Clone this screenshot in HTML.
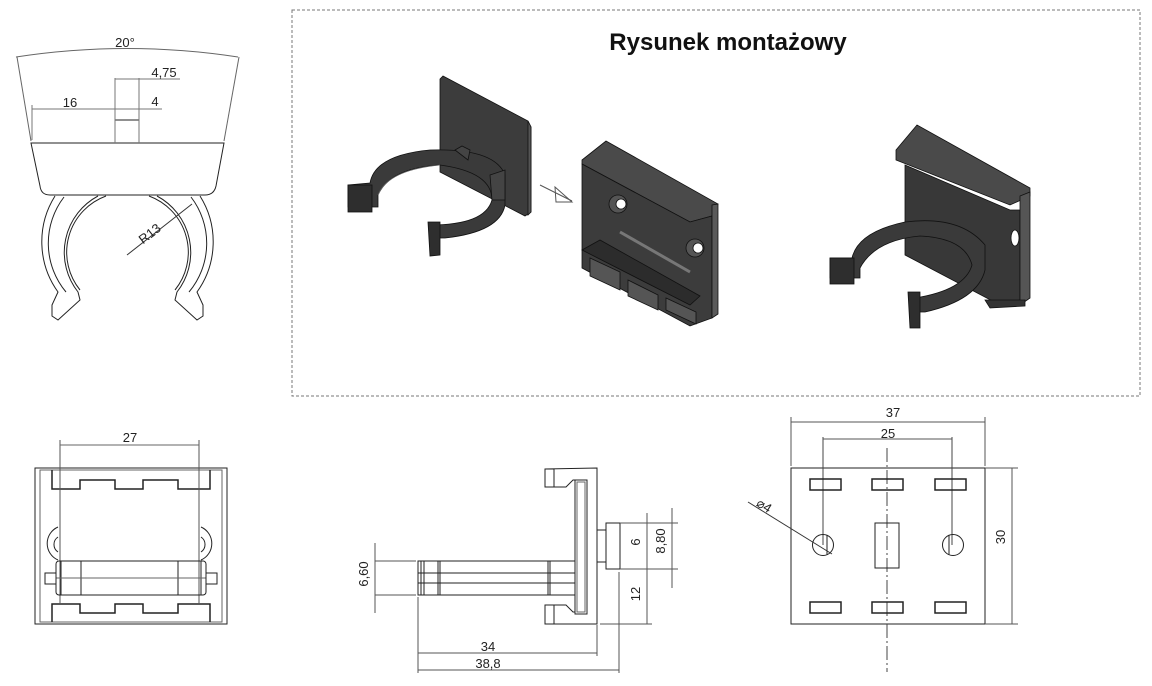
<!DOCTYPE html>
<html><head><meta charset="utf-8"><style>
html,body{margin:0;padding:0;background:#fff;}
svg{display:block;font-family:"Liberation Sans",sans-serif;}
</style></head><body>
<svg width="1152" height="686" viewBox="0 0 1152 686" xmlns="http://www.w3.org/2000/svg">
<g fill="none" stroke="#222" stroke-width="1">
<rect x="292" y="10" width="848" height="386" stroke="#777" stroke-dasharray="3,2"/>

<path d="M16 57 Q127 40 238 57" stroke="#666"/>
<line x1="17" y1="57" x2="31" y2="141" stroke="#666"/>
<line x1="239" y1="57" x2="224" y2="141" stroke="#666"/>
<path d="M31 143 L224 143 L216 186 Q214 195 205 195 L50 195 Q41 195 40 186 Z"/>
<rect x="115" y="120" width="24" height="23"/>
<line x1="32" y1="109" x2="115" y2="109" stroke="#777"/>
<line x1="115" y1="109" x2="162" y2="109" stroke="#777"/>
<line x1="115" y1="79" x2="180" y2="79" stroke="#777"/>
<line x1="115" y1="78" x2="115" y2="143" stroke="#777"/>
<line x1="139" y1="78" x2="139" y2="143" stroke="#777"/>
<line x1="32" y1="105" x2="32" y2="140" stroke="#777"/>
<path d="M55 196 A86 86 0 0 0 58 292 L52 305 L52 316 L58 320 L80 300 L78 292 A64 64 0 0 1 98 196"/>
<path d="M64 197 A76 76 0 0 0 66 292"/>
<path d="M200 196 A86 86 0 0 1 197 292 L203 305 L203 316 L197 320 L175 300 L177 292 A64 64 0 0 0 157 196"/>
<path d="M191 197 A76 76 0 0 1 189 292"/>
<path d="M106 196 A60 60 0 0 0 80 290"/>
<path d="M149 196 A60 60 0 0 1 175 290"/>
<line x1="127" y1="255" x2="192" y2="204" stroke="#333"/>

<rect x="35" y="468" width="192" height="156"/>
<rect x="40" y="470" width="182" height="152" stroke="#666"/>
<path d="M52 470 L52 489 L80 489 L80 480 L115 480 L115 489 L143 489 L143 480 L178 480 L178 489 L210 489 L210 470" stroke-width="1.5"/>
<path d="M52 622 L52 604 L80 604 L80 613 L115 613 L115 604 L143 604 L143 613 L178 613 L178 604 L210 604 L210 622" stroke-width="1.5"/>
<line x1="60" y1="440" x2="60" y2="604" stroke="#555"/>
<line x1="199" y1="440" x2="199" y2="604" stroke="#555"/>
<line x1="60" y1="445" x2="199" y2="445" stroke="#666"/>
<rect x="56" y="561" width="150" height="34" rx="3"/>
<line x1="81" y1="561" x2="81" y2="595"/><line x1="178" y1="561" x2="178" y2="595"/>
<line x1="61" y1="561" x2="61" y2="595"/><line x1="201" y1="561" x2="201" y2="595"/>
<line x1="56" y1="578" x2="206" y2="578" stroke="#666"/>
<rect x="45" y="573" width="11" height="11"/><rect x="206" y="573" width="11" height="11"/>
<path d="M58 527 A18 18 0 0 0 58 560"/><path d="M58 537 A9 9 0 0 0 58 552"/>
<path d="M201 527 A18 18 0 0 1 201 560"/><path d="M201 537 A9 9 0 0 1 201 552"/>

<path d="M545 469 L597 468 L597 624 L545 624 L545 605 L566 605 L573 612 L575 612"/>
<path d="M545 469 L545 487 L566 487 L573 480 L586 480"/>
<rect x="545" y="469" width="9" height="18"/>
<rect x="545" y="605" width="9" height="19"/>
<rect x="575" y="480" width="12" height="134"/>
<rect x="577" y="482" width="8" height="130" stroke="#666"/>
<rect x="418" y="561" width="157" height="34"/>
<line x1="418" y1="573" x2="575" y2="573"/><line x1="418" y1="583" x2="575" y2="583"/>
<line x1="421" y1="561" x2="421" y2="595"/><line x1="424" y1="561" x2="424" y2="595"/>
<line x1="438" y1="561" x2="438" y2="595"/><line x1="440" y1="561" x2="440" y2="595"/>
<line x1="548" y1="561" x2="548" y2="595"/><line x1="550" y1="561" x2="550" y2="595"/>
<rect x="606" y="523" width="14" height="46"/>
<rect x="597" y="530" width="9" height="32"/>
<line x1="375" y1="543" x2="375" y2="613" stroke="#555"/>
<line x1="375" y1="561" x2="416" y2="561" stroke="#555"/>
<line x1="375" y1="595" x2="416" y2="595" stroke="#555"/>
<line x1="620" y1="523" x2="678" y2="523" stroke="#555"/>
<line x1="620" y1="569" x2="678" y2="569" stroke="#555"/>
<line x1="600" y1="624" x2="652" y2="624" stroke="#555"/>
<line x1="647" y1="513" x2="647" y2="624" stroke="#555"/>
<line x1="672" y1="508" x2="672" y2="588" stroke="#555"/>
<line x1="418" y1="597" x2="418" y2="673" stroke="#555"/>
<line x1="597" y1="625" x2="597" y2="656" stroke="#555"/>
<line x1="619" y1="572" x2="619" y2="673" stroke="#555"/>
<line x1="418" y1="653" x2="597" y2="653" stroke="#555"/>
<line x1="418" y1="670" x2="619" y2="670" stroke="#555"/>

<rect x="791" y="468" width="194" height="156"/>
<line x1="791" y1="417" x2="791" y2="466" stroke="#555"/>
<line x1="985" y1="417" x2="985" y2="466" stroke="#555"/>
<line x1="791" y1="422" x2="985" y2="422" stroke="#555"/>
<line x1="823" y1="437" x2="823" y2="545" stroke="#444"/>
<line x1="952" y1="437" x2="952" y2="545" stroke="#444"/>
<line x1="823" y1="439" x2="952" y2="439" stroke="#555"/>
<line x1="887" y1="448" x2="887" y2="672" stroke="#444" stroke-dasharray="14,3,2,3"/>
<rect x="810" y="479" width="31" height="11" stroke-width="1.5"/>
<rect x="872" y="479" width="31" height="11" stroke-width="1.5"/>
<rect x="935" y="479" width="31" height="11" stroke-width="1.5"/>
<rect x="810" y="602" width="31" height="11" stroke-width="1.5"/>
<rect x="872" y="602" width="31" height="11" stroke-width="1.5"/>
<rect x="935" y="602" width="31" height="11" stroke-width="1.5"/>
<circle cx="823" cy="545" r="10.5"/><circle cx="953" cy="545" r="10.5"/>
<line x1="827" y1="535" x2="827" y2="555"/><line x1="949" y1="535" x2="949" y2="555"/>
<rect x="875" y="523" width="24" height="45"/>
<line x1="985" y1="468" x2="1018" y2="468" stroke="#555"/>
<line x1="985" y1="624" x2="1018" y2="624" stroke="#555"/>
<line x1="1012" y1="468" x2="1012" y2="624" stroke="#555"/>
<line x1="748" y1="502" x2="832" y2="554" stroke="#333"/>

<line x1="540" y1="185" x2="572" y2="201" stroke="#555"/>
<path d="M555 187 L572 202 L556 202 Z" stroke="#555"/>
</g>

<g stroke="#111" stroke-width="0.8">
<path d="M440 79 L443 76 L528 121 L531 127 L531 212 L525 216 L440 172 Z" fill="#3c3c3c"/>
<path d="M528 121 L531 127 L531 212 L528 215 Z" fill="#555"/>
<path fill-rule="evenodd" fill="#3a3a3a" d="M370 183 Q375 155 430 150 Q495 148 505 175 L505 205 Q500 232 445 238 L430 238 L430 225 Q485 225 492 200 Q492 172 440 165 Q390 168 378 195 L378 207 L348 207 L348 185 Z"/>
<path d="M378 195 Q388 170 440 165" fill="none" stroke="#666"/>
<rect x="348" y="185" width="24" height="27" fill="#2e2e2e"/>
<path d="M428 222 L440 222 L440 255 L430 256 Z" fill="#2e2e2e"/>
<path d="M455 150 L462 146 L470 150 L468 160 Z" fill="#444"/>
<path d="M490 175 L505 170 L505 200 L492 200 Z" fill="#444"/>
</g>

<g stroke="#111" stroke-width="0.8">
<path d="M582 160 L606 141 L718 204 L712 216 L690 222 L582 164 Z" fill="#4a4a4a"/>
<path d="M582 164 L690 222 L712 216 L712 318 L690 326 L582 268 Z" fill="#3c3c3c"/>
<path d="M712 205 L718 204 L718 314 L712 318 Z" fill="#5a5a5a"/>
<path d="M582 250 L600 240 L700 296 L690 305 Z" fill="#2c2c2c"/>
<path d="M590 258 L620 272 L620 290 L590 276 Z" fill="#555"/>
<path d="M628 280 L658 295 L658 310 L628 296 Z" fill="#555"/>
<path d="M666 298 L696 312 L696 324 L666 310 Z" fill="#555"/>
<path d="M620 232 L690 272" stroke="#777" stroke-width="3" fill="none"/>
<circle cx="618" cy="204" r="9" fill="#555"/><circle cx="621" cy="204" r="5" fill="#fff"/>
<circle cx="695" cy="248" r="9" fill="#555"/><circle cx="698" cy="248" r="5" fill="#fff"/>
</g>

<g stroke="#111" stroke-width="0.8">
<path d="M896 150 L917 125 L1030 188 L1030 196 L1010 205 L896 160 Z" fill="#4a4a4a"/>
<path d="M905 165 L1010 210 L1020 210 L1020 300 L1000 305 L905 255 Z" fill="#383838"/>
<path d="M1020 196 L1030 192 L1030 298 L1020 305 Z" fill="#555"/>
<path d="M985 300 L1025 300 L1025 306 L990 308 Z" fill="#333"/>
<path fill-rule="evenodd" fill="#3a3a3a" d="M852 258 Q858 232 905 222 Q960 215 985 245 L985 270 Q978 300 925 312 L915 312 L915 298 Q965 290 972 265 Q965 238 920 236 Q875 240 860 268 L860 278 L830 278 L830 258 Z"/>
<rect x="830" y="258" width="24" height="26" fill="#2e2e2e"/>
<path d="M908 292 L920 292 L920 328 L910 328 Z" fill="#2e2e2e"/>
<ellipse cx="1015" cy="238" rx="4" ry="8" fill="#fff"/>
</g>

<g fill="#222" font-size="13">
<text x="728" y="50" font-size="24" font-weight="bold" text-anchor="middle" fill="#111">Rysunek montażowy</text>
<text x="125" y="47" text-anchor="middle">20°</text>
<text x="164" y="77" text-anchor="middle">4,75</text>
<text x="70" y="107" text-anchor="middle">16</text>
<text x="155" y="106" text-anchor="middle">4</text>
<text x="150" y="238" text-anchor="middle" transform="rotate(-38 150 234)">R13</text>
<text x="130" y="442" text-anchor="middle">27</text>
<text x="488" y="651" text-anchor="middle">34</text>
<text x="488" y="668" text-anchor="middle">38,8</text>
<text x="372" y="578" text-anchor="middle" transform="rotate(-90 368 578)">6,60</text>
<text x="644" y="546" text-anchor="middle" transform="rotate(-90 640 546)">6</text>
<text x="669" y="545" text-anchor="middle" transform="rotate(-90 665 545)">8,80</text>
<text x="644" y="598" text-anchor="middle" transform="rotate(-90 640 598)">12</text>
<text x="893" y="417" text-anchor="middle">37</text>
<text x="888" y="438" text-anchor="middle">25</text>
<text x="1009" y="541" text-anchor="middle" transform="rotate(-90 1005 541)">30</text>
<text x="764" y="510" text-anchor="middle" transform="rotate(32 764 506)">⌀4</text>
</g>
</svg>
</body></html>
